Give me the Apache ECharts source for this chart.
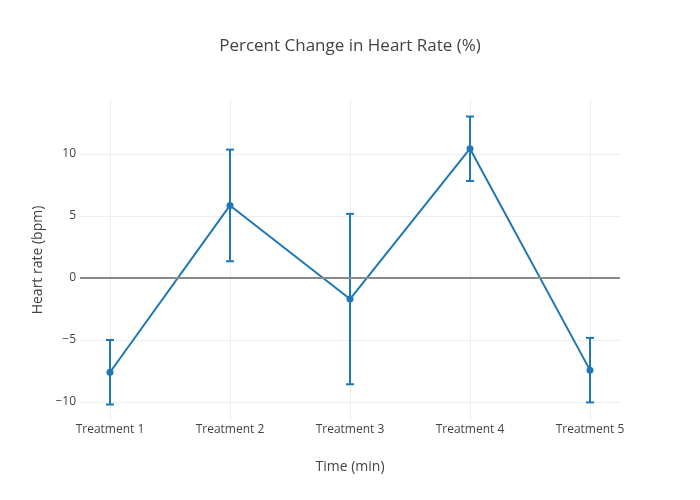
<!DOCTYPE html>
<html>
<head>
<meta charset="utf-8">
<script src="https://cdn.jsdelivr.net/npm/echarts@6/dist/echarts.min.js"></script>
<style>html,body{margin:0;padding:0;background:#fff}#c{width:700px;height:500px}</style>
</head>
<body>
<div id="c"></div>
<script>
const categories = ['Treatment 1', 'Treatment 2', 'Treatment 3', 'Treatment 4', 'Treatment 5'];
const values = [-7.6, 5.85, -1.7, 10.42, -7.43];
const errors = [2.6, 4.5, 6.87, 2.6, 2.6];
const yTicks = [-10, -5, 0, 5, 10];
const xTicks = [0, 1, 2, 3, 4];

const color = '#1f77b4';
const font = '"Open Sans", "Noto Sans", sans-serif';

const lineData = values.map((v, i) => [i, v]);
const errData = values.map((v, i) => [i, v - errors[i], v + errors[i]]);

const chart = echarts.init(document.getElementById('c'), null, {renderer: 'canvas'});
chart.setOption({
  animation: false,
  backgroundColor: '#fff',
  title: {
    text: 'Percent Change in Heart Rate (%)',
    left: 'center',
    top: 33,
    textStyle: {fontFamily: font, fontSize: 17, fontWeight: 'normal', color: '#444'}
  },
  grid: {left: 80, right: 80, top: 100, bottom: 80, containLabel: false},
  xAxis: {
    type: 'value',
    min: -0.25,
    max: 4.25,
    name: 'Time (min)',
    nameLocation: 'middle',
    nameGap: 40,
    nameTextStyle: {fontFamily: font, fontSize: 14, color: '#444'},
    axisLine: {show: false},
    axisTick: {show: false, customValues: xTicks},
    axisLabel: {
      customValues: xTicks,
      formatter: v => categories[Math.round(v)] || '',
      fontFamily: font, fontSize: 12, color: '#444', margin: 4
    },
    splitLine: {show: true, lineStyle: {color: '#eee', width: 1}}
  },
  yAxis: {
    type: 'value',
    min: -11.45,
    max: 14.35,
    name: 'Heart rate (bpm)',
    nameLocation: 'middle',
    nameGap: 35,
    nameTextStyle: {fontFamily: font, fontSize: 14, color: '#444'},
    axisLine: {show: false},
    axisTick: {show: false, customValues: yTicks},
    axisLabel: {
      customValues: yTicks,
      formatter: v => (v < 0 ? '\u2212' + Math.abs(v) : String(v)),
      fontFamily: font, fontSize: 12, color: '#444', margin: 4
    },
    splitLine: {show: true, lineStyle: {color: '#eee', width: 1}}
  },
  series: [
    {
      type: 'line',
      data: lineData,
      z: 3,
      symbol: 'circle',
      symbolSize: 7,
      itemStyle: {color: color},
      lineStyle: {color: color, width: 2},
      markLine: {
        silent: true,
        symbol: 'none',
        label: {show: false},
        lineStyle: {color: '#8a8a8a', width: 2, type: 'solid'},
        data: [{yAxis: 0}]
      }
    },
    {
      type: 'custom',
      data: errData,
      z: 4,
      renderItem: function (params, api) {
        const x = api.value(0);
        const lo = api.coord([x, api.value(1)]);
        const hi = api.coord([x, api.value(2)]);
        const w = 4;
        const style = {stroke: color, lineWidth: 2};
        return {
          type: 'group',
          children: [
            {type: 'line', shape: {x1: lo[0], y1: lo[1], x2: hi[0], y2: hi[1]}, style: style},
            {type: 'line', shape: {x1: lo[0] - w, y1: lo[1], x2: lo[0] + w, y2: lo[1]}, style: style},
            {type: 'line', shape: {x1: hi[0] - w, y1: hi[1], x2: hi[0] + w, y2: hi[1]}, style: style}
          ]
        };
      }
    }
  ]
});
</script>
</body>
</html>
